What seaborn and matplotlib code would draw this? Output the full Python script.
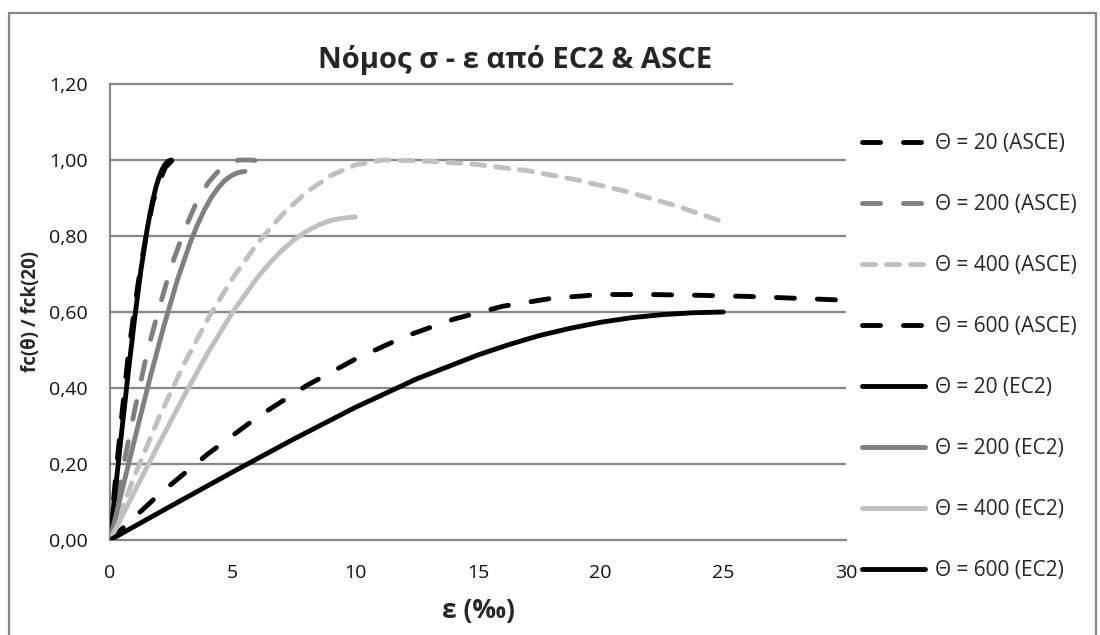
import matplotlib
matplotlib.use("Agg")
import matplotlib.pyplot as plt
import seaborn as sns
from matplotlib.patches import Rectangle
from matplotlib.ticker import FuncFormatter

# strain (per mille) and normalised strength fc(θ)/fck(20)
eps_asce_20 = [0, 0.25, 0.5, 0.75, 1.0, 1.25, 1.5, 1.75, 2.0, 2.25, 2.5, 2.64]
sig_asce_20 = [0, 0.18, 0.34, 0.49, 0.61, 0.72, 0.81, 0.89, 0.94, 0.98, 0.997, 1.00]

eps_asce_200 = [0, 0.5, 1.0, 1.5, 2.0, 2.5, 3.0, 3.5, 4.0, 4.5, 5.0, 5.3, 5.75, 6.2]
sig_asce_200 = [0, 0.18, 0.34, 0.49, 0.61, 0.72, 0.81, 0.885, 0.94, 0.977, 0.997, 1.00, 1.00, 0.997]

eps_asce_400 = [0, 1, 2, 3, 4, 5, 6, 7, 8, 9, 10, 11, 11.3, 13, 15, 17, 19, 21, 23, 25]
sig_asce_400 = [0, 0.169, 0.323, 0.461, 0.583, 0.689, 0.780, 0.855, 0.915, 0.959,
                0.987, 0.999, 1.00, 0.997, 0.988, 0.972, 0.948, 0.918, 0.881, 0.837]

eps_asce_600 = [0, 2, 4, 6, 8, 10, 12, 14, 16, 18, 20, 20.5, 22, 24, 26, 28, 30]
sig_asce_600 = [0, 0.120, 0.227, 0.323, 0.406, 0.476, 0.535, 0.581, 0.615, 0.636,
                0.646, 0.646, 0.646, 0.644, 0.641, 0.636, 0.631]

eps_ec2_20 = [0, 0.25, 0.5, 0.75, 1.0, 1.25, 1.5, 1.625, 1.75, 1.875, 2.0, 2.125,
              2.25, 2.375, 2.5]
sig_ec2_20 = [0, 0.150, 0.299, 0.444, 0.581, 0.706, 0.812, 0.857, 0.896, 0.929,
              0.955, 0.975, 0.989, 0.997, 1.000]

eps_ec2_200 = [0, 0.55, 1.1, 1.65, 2.2, 2.75, 3.3, 3.575, 3.85, 4.125, 4.4, 4.675,
               4.95, 5.225, 5.5]
sig_ec2_200 = [0, 0.146, 0.290, 0.431, 0.564, 0.685, 0.788, 0.831, 0.869, 0.901,
               0.926, 0.946, 0.959, 0.967, 0.970]

eps_ec2_400 = [0, 1, 2, 3, 4, 5, 6, 6.5, 7, 7.5, 8, 8.5, 9, 9.5, 10]
sig_ec2_400 = [0, 0.128, 0.254, 0.377, 0.494, 0.600, 0.690, 0.728, 0.762, 0.790,
               0.812, 0.829, 0.841, 0.847, 0.850]

eps_ec2_600 = [0, 2.5, 5, 7.5, 10, 12.5, 15, 16.25, 17.5, 18.75, 20, 21.25, 22.5,
               23.75, 25]
sig_ec2_600 = [0, 0.090, 0.179, 0.266, 0.349, 0.424, 0.487, 0.514, 0.538, 0.557,
               0.573, 0.585, 0.593, 0.598, 0.600]

labels = ["Θ = 20 (ASCE)", "Θ = 200 (ASCE)", "Θ = 400 (ASCE)", "Θ = 600 (ASCE)",
          "Θ = 20 (EC2)", "Θ = 200 (EC2)", "Θ = 400 (EC2)", "Θ = 600 (EC2)"]
x_ticks = [0, 5, 10, 15, 20, 25, 30]
y_ticks = [0.0, 0.2, 0.4, 0.6, 0.8, 1.0, 1.2]

title = "Νόμος σ - ε από EC2 & ASCE"
x_label = "ε (‰)"
y_label = "fc(θ) / fck(20)"

sns.set_style("white")
plt.rcParams["font.family"] = ["Open Sans", "DejaVu Sans"]
plt.rcParams["lines.scale_dashes"] = False

BLACK, MID, LIGHT = "#000000", "#808080", "#c0c0c0"
GRID = "#878787"
LW = 3.5
LONG = (0, (13, 16.5))
SHORT = (0, (9.4, 7.9))

series = [
    (eps_asce_20, sig_asce_20, BLACK, LONG),
    (eps_asce_200, sig_asce_200, MID, LONG),
    (eps_asce_400, sig_asce_400, LIGHT, SHORT),
    (eps_asce_600, sig_asce_600, BLACK, LONG),
    (eps_ec2_20, sig_ec2_20, BLACK, "-"),
    (eps_ec2_200, sig_ec2_200, MID, "-"),
    (eps_ec2_400, sig_ec2_400, LIGHT, "-"),
    (eps_ec2_600, sig_ec2_600, BLACK, "-"),
]

W, H = 1100, 635
fig = plt.figure(figsize=(W / 100, H / 100), dpi=100)
fig.patch.set_facecolor("white")
ax = fig.add_axes([110 / W, 1 - 540 / H, 736 / W, 456 / H])

handles = []
for (xs, ys, color, ls), lab in zip(series, labels):
    sns.lineplot(x=xs, y=ys, ax=ax, color=color, linewidth=LW, linestyle=ls,
                 sort=False, estimator=None, label=lab, legend=False,
                 dash_capstyle="round", solid_capstyle="round", zorder=3)
    handles.append(ax.lines[-1])

ax.set_xlim(0, 30)
ax.set_ylim(0, 1.2)
ax.set_xticks(x_ticks)
ax.set_yticks(y_ticks)
ax.xaxis.set_major_formatter(FuncFormatter(lambda v, p: f"{v:.0f}"))
ax.yaxis.set_major_formatter(FuncFormatter(lambda v, p: f"{v:.2f}".replace(".", ",")))

# horizontal gridlines; the top one stops short under the title
for yv in y_ticks[1:-1]:
    ax.axhline(yv, color=GRID, lw=1.6, zorder=1)
ax.hlines(1.2, 0, 25.4, color=GRID, lw=1.6, zorder=1, clip_on=False)

for side in ["top", "right"]:
    ax.spines[side].set_visible(False)
for side in ["left", "bottom"]:
    ax.spines[side].set_color(GRID)
    ax.spines[side].set_linewidth(1.6)

ax.tick_params(axis="both", direction="out", color=GRID, width=1.6,
               labelsize=14, labelcolor="#111111")
ax.tick_params(axis="y", length=5, pad=11)
ax.tick_params(axis="x", length=5, pad=12)

ax.set_xlabel(x_label, fontsize=19, fontweight="bold", labelpad=11)
ax.set_ylabel(y_label, fontsize=13.5, fontweight="bold", labelpad=6)

fig.text(515 / W, 1 - 68 / H, title, ha="center", va="baseline",
         fontsize=21, fontweight="bold")

leg = fig.legend(handles, labels, loc="upper left",
                 bbox_to_anchor=(862 / W, 1 - 133 / H), frameon=False,
                 fontsize=15, handlelength=3.0, handletextpad=0.5,
                 labelspacing=1.92, borderpad=0, borderaxespad=0)

# outer chart frame
fig.patches.append(Rectangle((9 / W, -0.05), 1087 / W, 1.05 - 13 / H,
                             transform=fig.transFigure, fill=False,
                             edgecolor=GRID, lw=1.6))

fig.savefig("out.png", dpi=100, facecolor="white")
